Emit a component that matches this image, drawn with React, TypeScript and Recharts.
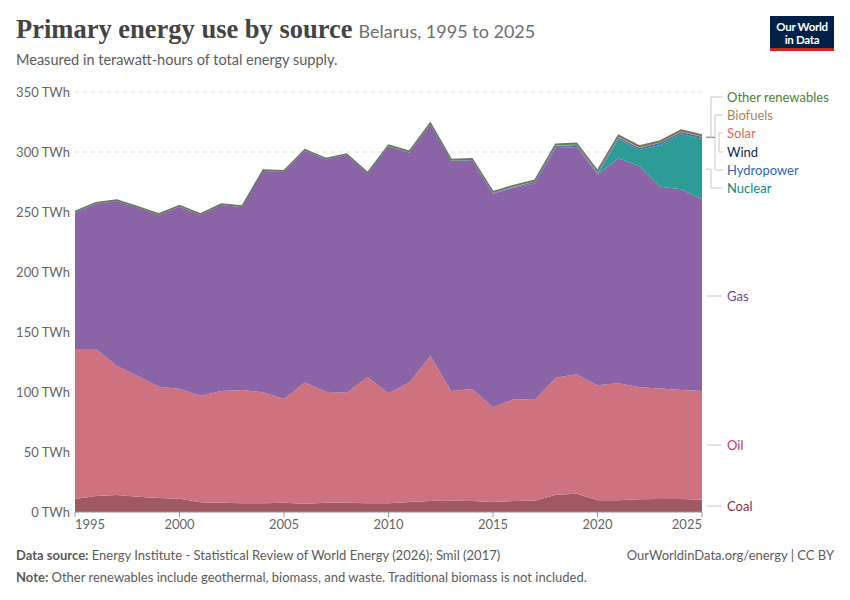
import React from 'react'
import { AreaChart, Area, XAxis, YAxis, CartesianGrid } from 'recharts'

// Belarus primary energy by source, TWh
const years = [
  1995, 1996, 1997, 1998, 1999, 2000, 2001, 2002, 2003, 2004, 2005, 2006, 2007, 2008, 2009, 2010,
  2011, 2012, 2013, 2014, 2015, 2016, 2017, 2018, 2019, 2020, 2021, 2022, 2023, 2024, 2025,
]
const coal = [
  10.8, 13.3, 14.2, 12.8, 11.7, 11.1, 8.1, 7.8, 7.2, 7.2, 7.8, 6.9, 7.8, 7.8, 7.2, 7.2,
  8.3, 9.2, 9.4, 9.2, 8.3, 9.2, 9.4, 14.4, 15.3, 9.7, 9.7, 10.6, 10.8, 10.8, 10.3,
]
const oil = [
  125.0, 122.5, 107.5, 100.5, 92.7, 91.7, 88.8, 93.0, 94.5, 92.5, 86.4, 101.1, 92.5, 91.6, 105.0, 91.7,
  99.7, 120.8, 91.4, 93.3, 78.9, 84.7, 84.2, 97.5, 99.4, 95.9, 97.5, 93.3, 92.2, 90.9, 90.5,
]
const gas = [
  113.8, 121.1, 137.4, 140.2, 143.0, 151.6, 150.5, 155.0, 152.4, 184.4, 189.3, 193.1, 193.5, 198.0, 169.7, 205.7,
  191.4, 193.0, 191.6, 190.4, 178.1, 176.4, 180.2, 191.5, 189.5, 175.4, 187.5, 184.4, 168.0, 167.3, 159.8,
]
const nuclear = [
  0, 0, 0, 0, 0, 0, 0, 0, 0, 0, 0, 0, 0, 0, 0, 0,
  0, 0, 0, 0, 0, 0, 0, 0, 0, 0.2, 16.0, 13.4, 34.9, 46.0, 50.3,
]
const hydropower = [
  0.1, 0.1, 0.1, 0.1, 0.1, 0.1, 0.1, 0.1, 0.1, 0.1, 0.1, 0.1, 0.1, 0.1, 0.1, 0.1,
  0.1, 0.2, 0.3, 0.3, 0.3, 0.4, 0.6, 0.9, 0.9, 0.9, 0.9, 0.9, 0.9, 0.9, 0.9,
]
const wind = [
  0, 0, 0, 0, 0, 0, 0, 0, 0, 0, 0, 0, 0, 0, 0, 0,
  0.05, 0.05, 0.05, 0.1, 0.1, 0.2, 0.5, 0.5, 0.5, 0.5, 0.5, 0.6, 0.6, 0.6, 0.6,
]
const solar = [
  0, 0, 0, 0, 0, 0, 0, 0, 0, 0, 0, 0, 0, 0, 0, 0,
  0, 0, 0, 0, 0.1, 0.2, 0.4, 0.5, 0.5, 0.5, 0.5, 0.5, 0.5, 0.5, 0.5,
]
const biofuels = [
  0, 0, 0, 0, 0, 0, 0, 0, 0, 0, 0, 0, 0, 0, 0, 0.1,
  0.1, 0.1, 0.1, 0.1, 0.1, 0.1, 0.1, 0.1, 0.1, 0.1, 0.1, 0.1, 0.1, 0.1, 0.1,
]
const otherRenewables = [
  0.8, 0.8, 0.8, 0.8, 0.8, 0.8, 0.8, 0.8, 0.8, 0.8, 0.8, 0.8, 0.8, 0.8, 0.8, 1.0,
  1.0, 1.0, 1.0, 1.0, 1.0, 1.0, 1.0, 1.0, 1.0, 1.2, 1.2, 1.2, 1.2, 1.2, 1.2,
]

const yTicks = [0, 50, 100, 150, 200, 250, 300, 350]
const xTicks = [1995, 2000, 2005, 2010, 2015, 2020, 2025]

const series = [
  { key: 'coal', name: 'Coal', values: coal, fill: '#a15961', text: '#8a2f3a' },
  { key: 'oil', name: 'Oil', values: oil, fill: '#ce7280', text: '#c03a5c' },
  { key: 'gas', name: 'Gas', values: gas, fill: '#8a64a6', text: '#6f4592' },
  { key: 'nuclear', name: 'Nuclear', values: nuclear, fill: '#2e9c96', text: '#12867e' },
  { key: 'hydropower', name: 'Hydropower', values: hydropower, fill: '#3b72c7', text: '#3164b8' },
  { key: 'wind', name: 'Wind', values: wind, fill: '#12305e', text: '#0c2a5a' },
  { key: 'solar', name: 'Solar', values: solar, fill: '#e6735c', text: '#e06a55' },
  { key: 'biofuels', name: 'Biofuels', values: biofuels, fill: '#b88d5e', text: '#ad8559' },
  { key: 'other', name: 'Other renewables', values: otherRenewables, fill: '#5b8a3c', text: '#4f7d3a' },
]

const data = years.map((year, i) => {
  const row: Record<string, number> = { year }
  series.forEach((s) => (row[s.key] = s.values[i]))
  return row
})

const FONT = 'Lato, "Noto Sans", sans-serif'
const PLOT = { left: 75, right: 702, top: 92, bottom: 512 }
const Y_MAX = 350
const toY = (v: number) => PLOT.bottom - (v / Y_MAX) * (PLOT.bottom - PLOT.top)

const XTick = ({ x, y, payload }: any) => {
  const v = payload.value
  const anchor = v === xTicks[0] ? 'start' : v === xTicks[xTicks.length - 1] ? 'end' : 'middle'
  return (
    <text x={x} y={y} dy={10} textAnchor={anchor} fill="#666" fontSize={13} fontFamily={FONT}>
      {v}
    </text>
  )
}

// label placement at the right edge: label y and the x of the bracket
const labelLayout: Record<string, { y: number; bx: number }> = {
  other: { y: 97, bx: 711 },
  biofuels: { y: 115, bx: 715 },
  solar: { y: 133, bx: 719 },
  wind: { y: 152, bx: 719 },
  hydropower: { y: 170, bx: 715 },
  nuclear: { y: 188, bx: 711 },
  gas: { y: 296, bx: 0 },
  oil: { y: 445, bx: 0 },
  coal: { y: 506, bx: 0 },
}

function EndLabels() {
  const last = years.length - 1
  let base = 0
  const ends = series.map((s) => {
    const v = s.values[last]
    const mid = base + v / 2
    base += v
    return { ...s, midY: toY(mid) }
  })
  const smallY = toY(base - 2)
  return (
    <svg width={850} height={600} style={{ position: 'absolute', left: 0, top: 0, pointerEvents: 'none' }}>
      <line x1={706} x2={715} y1={smallY} y2={smallY} stroke="#999" strokeWidth={1.5} />
      {ends.map((s) => {
        const lay = labelLayout[s.key]
        const small = ['hydropower', 'wind', 'solar', 'biofuels', 'other'].includes(s.key)
        const fromY = small ? smallY : s.midY
        const path = lay.bx
          ? `M${s.key === 'nuclear' ? 706 : lay.bx},${fromY} L${lay.bx},${fromY} L${lay.bx},${lay.y} L723,${lay.y}`
          : `M707,${lay.y} L722,${lay.y}`
        return (
          <g key={s.key}>
            <path d={path} fill="none" stroke="#c8c8c8" strokeWidth={1} />
            <text x={727} y={lay.y} dy="0.35em" fill={s.text} fontSize={13} fontFamily={FONT}>
              {s.name}
            </text>
          </g>
        )
      })}
    </svg>
  )
}

const logoLine = { height: 13, lineHeight: '13px', fontSize: 11.5 }

export default function App() {
  return (
    <div style={{ position: 'absolute', left: 0, top: 0, width: 850, height: 600, background: '#fff', fontFamily: FONT }}>
      <div style={{ position: 'absolute', left: 16, top: 14, whiteSpace: 'nowrap' }}>
        <span style={{ fontFamily: '"Liberation Serif", serif', fontSize: 26.5, fontWeight: 600, color: '#444' }}>
          Primary energy use by source
        </span>
        <span style={{ fontSize: 18, color: '#6e6e6e', marginLeft: 6 }}>Belarus, 1995 to 2025</span>
      </div>
      <div style={{ position: 'absolute', left: 16, top: 51, fontSize: 14.5, color: '#5b5b5b' }}>
        Measured in terawatt-hours of total energy supply.
      </div>
      <div
        style={{
          position: 'absolute', left: 770, top: 16, width: 64, height: 35, background: '#002147',
          borderBottom: '3px solid #ce261e', color: '#fff', fontWeight: 700,
          textAlign: 'center', paddingTop: 4, boxSizing: 'border-box', letterSpacing: -0.3,
        }}
      >
        <div style={logoLine}>Our World</div>
        <div style={logoLine}>in Data</div>
      </div>

      <div style={{ position: 'absolute', left: 0, top: 0 }}>
        <AreaChart width={850} height={600} data={data} margin={{ top: 92, right: 148, bottom: 58, left: 0 }}>
          <CartesianGrid horizontal vertical={false} stroke="#dddddd" strokeDasharray="4 4" />
          <XAxis
            dataKey="year"
            type="number"
            domain={[1995, 2025]}
            ticks={xTicks}
            height={30}
            stroke="#999"
            tickSize={5}
            tick={<XTick />}
          />
          <YAxis
            type="number"
            domain={[0, Y_MAX]}
            ticks={yTicks}
            width={75}
            axisLine={false}
            tickLine={false}
            tickSize={0}
            tickMargin={5}
            tick={{ fill: '#666', fontSize: 13, fontFamily: FONT }}
            tickFormatter={(v) => `${v} TWh`}
          />
          {series.map((s) => (
            <Area
              key={s.key}
              type="linear"
              dataKey={s.key}
              stackId="1"
              fill={s.fill}
              fillOpacity={1}
              stroke={s.key === 'other' ? '#6d7565' : 'none'}
              strokeWidth={s.key === 'other' ? 1.5 : 0}
              dot={false}
              activeDot={false}
              isAnimationActive={false}
            />
          ))}
        </AreaChart>
      </div>
      <EndLabels />

      <div style={{ position: 'absolute', left: 16, top: 547, fontSize: 13, color: '#5b5b5b', whiteSpace: 'nowrap' }}>
        <b style={{ fontWeight: 700 }}>Data source:</b> Energy Institute - Statistical Review of World Energy (2026); Smil (2017)
      </div>
      <div style={{ position: 'absolute', right: 16, top: 547, fontSize: 13, color: '#5b5b5b', whiteSpace: 'nowrap' }}>
        OurWorldinData.org/energy | CC BY
      </div>
      <div style={{ position: 'absolute', left: 16, top: 569, fontSize: 13, color: '#5b5b5b', whiteSpace: 'nowrap' }}>
        <b style={{ fontWeight: 700 }}>Note:</b> Other renewables include geothermal, biomass, and waste. Traditional biomass is not included.
      </div>
    </div>
  )
}
